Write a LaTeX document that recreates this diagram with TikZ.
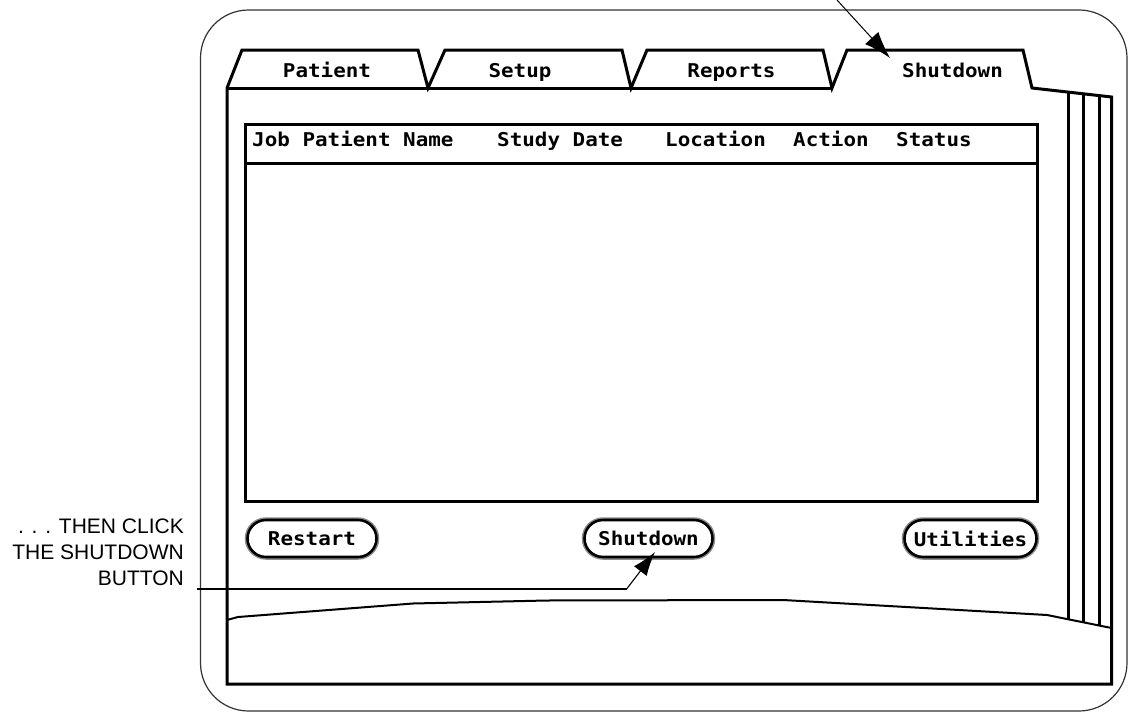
\documentclass[tikz,border=0pt]{standalone}
\usepackage{fontspec}
\setmainfont{Liberation Sans}
\newfontfamily\monob[FakeStretch=1.1]{DejaVu Sans Mono}
\usetikzlibrary{arrows.meta}
\begin{document}
\begin{tikzpicture}[x=1pt,y=-1pt,
  thickln/.style={line width=3pt, line join=miter},
  monotext/.style={font=\monob\bfseries\fontsize{19}{21}\selectfont, inner sep=0pt},
  tablabel/.style={monotext, anchor=base},
  headlabel/.style={monotext, anchor=base west},
  btn/.style={monotext, draw=black, line width=2.6pt, fill=white,
    rounded corners=18.5pt, minimum height=37pt,
    preaction={draw=black!45, line width=5.5pt}},
  callout/.style={font=\fontsize{21}{26}\selectfont, align=right, inner sep=0pt},
  leader/.style={line width=2pt},
  pointer/.style={line width=1.1pt, -{Latex[length=24pt,width=16pt]}}
]
\useasboundingbox[fill=white] (0,0) rectangle (1128,712);

% outer casing
\draw[line width=1.2pt, black!80, rounded corners=48pt] (200.5,10) rectangle (1127,711);

% main panel with tabs
\draw[thickln] (227,684) -- (227,88) -- (242,50) -- (418,50) -- (428,88)
  -- (445,50) -- (622,50) -- (631,88)
  -- (647,50) -- (823,50) -- (832,88)
  -- (847,50) -- (1023,50) -- (1032,88) -- (1111.5,97) -- (1111.5,684) -- cycle;
\draw[thickln] (227,88) -- (832,88);

% side strips
\draw[thickln] (1068,92) -- (1068,619.5);
\draw[thickln] (1083,93.7) -- (1083,622.5);
\draw[thickln] (1099,95.5) -- (1099,625.5);

% lower contour
\draw[line width=2pt] (227,620) -- (238,617) -- (413,603.5) -- (547,600.5) -- (783,600) -- (1047,615) -- (1111.5,628);

% list box
\draw[thickln] (245,124) rectangle (1037,501);
\draw[thickln] (245,163) -- (1037,163);

% tab labels
\node[tablabel] (tpatient) at (327,77) {Patient};
\node[tablabel] (tsetup) at (520,77) {Setup};
\node[tablabel] (treports) at (731.5,77) {Reports};
\node[tablabel] (tshutdown) at (952.5,77) {Shutdown};

% header labels
\node[headlabel] (hjob) at (252,146) {Job Patient Name};
\node[headlabel] (hdate) at (497,146) {Study Date};
\node[headlabel] (hloc) at (665,146) {Location};
\node[headlabel] (hact) at (793,146) {Action};
\node[headlabel] (hstat) at (896,146) {Status};

% buttons
\node[btn, minimum width=129pt] (brestart) at (312,538.5) {Restart};
\node[btn, minimum width=128pt] (bshut) at (648.5,538.5) {Shutdown};
\node[btn, minimum width=132pt] (butil) at (970.5,538.5) {Utilities};

% callouts
\node[callout, anchor=north east] (note) at (184,518.5) {. . . THEN CLICK\\THE SHUTDOWN\\BUTTON};
\coordinate (lstart) at (197,588.5);
\coordinate (lbend) at (627,588.5);
\coordinate (ltip) at (655,552);
\draw[leader] (lstart) -- (lbend);
\draw[pointer] (lbend) -- (ltip);

\coordinate (tstart) at (837,0);
\coordinate (ttip) at (890,58);
\draw[line width=1pt, -{Latex[length=27pt,width=18pt]}] (tstart) -- (ttip);
\end{tikzpicture}
\end{document}
